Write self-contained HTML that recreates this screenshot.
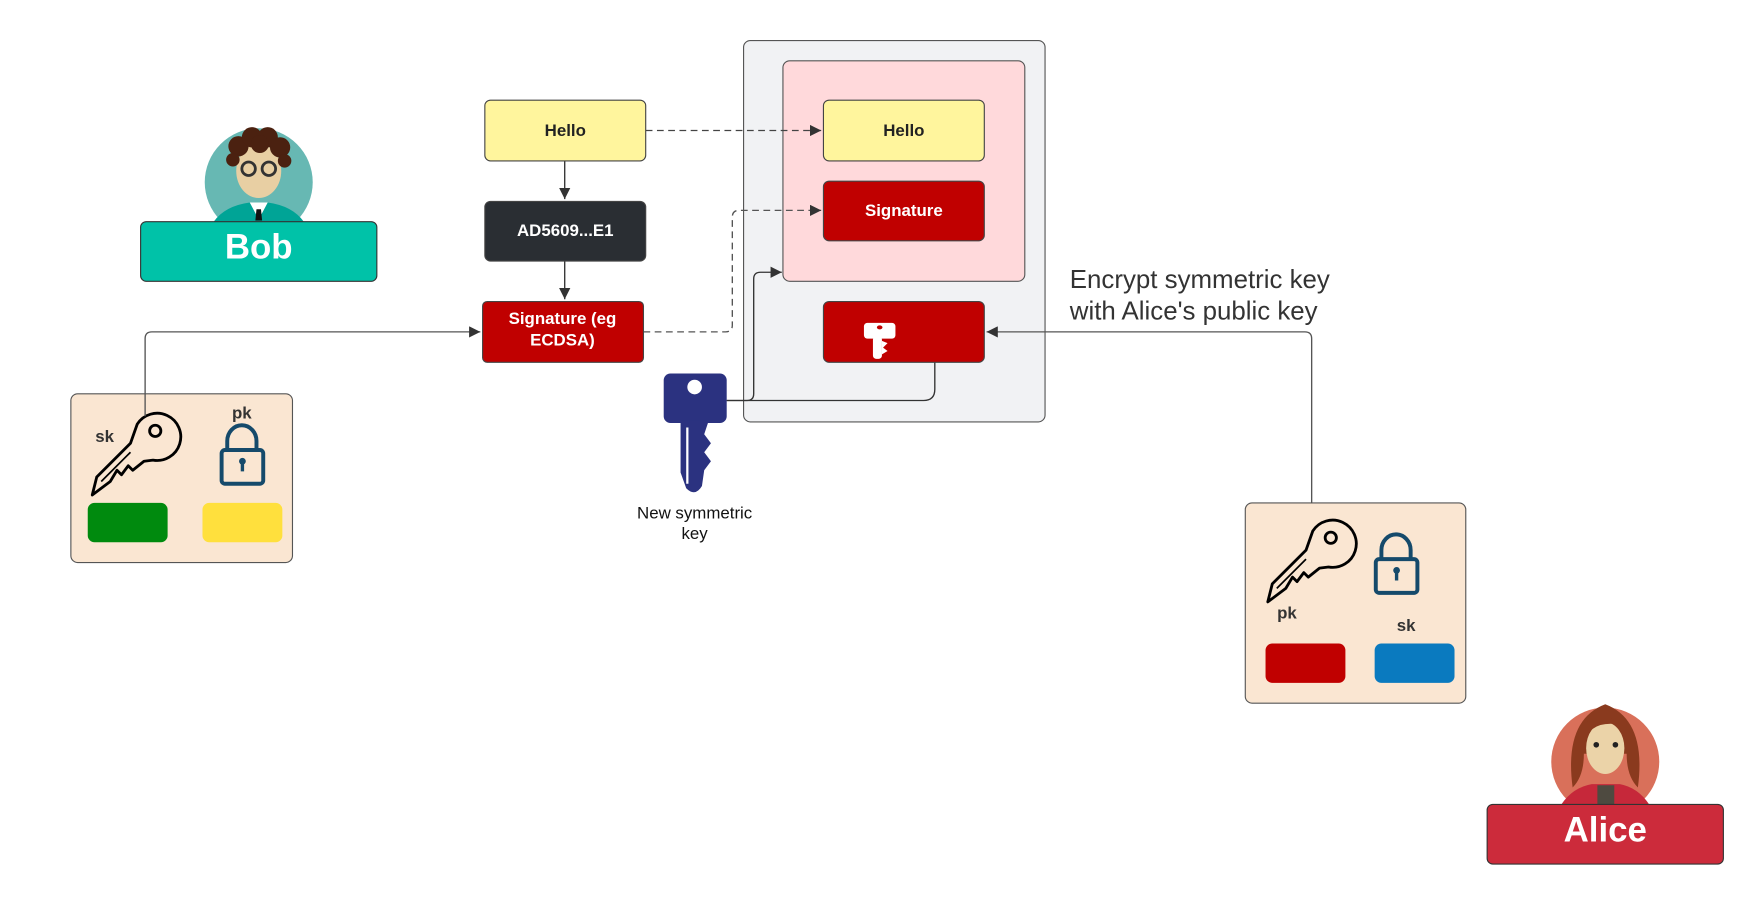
<!DOCTYPE html>
<html><head><meta charset="utf-8"><style>
html,body{margin:0;padding:0;background:#fff;width:1756px;height:900px;overflow:hidden}
svg{display:block}
text{font-family:"Liberation Sans",Arial,sans-serif}
</style></head><body>
<svg width="1756" height="900" viewBox="0 0 1561 800" preserveAspectRatio="none" xmlns="http://www.w3.org/2000/svg">
<defs>
<marker id="ar" viewBox="0 0 10 10" refX="10" refY="5" markerWidth="10" markerHeight="10" markerUnits="userSpaceOnUse" orient="auto"><path d="M0,0 L10,5 L0,10 z" fill="#333"/></marker>
<g id="okey" fill="none" stroke="#000" stroke-width="2.5" stroke-linejoin="round">
<path d="M122,377 A21,21 0 1 1 136,409 L128,410 L118,418 L114,414 L108,422 L104,418 L98,428 L82,440 L86,424 L116,394 Z"/>
<circle cx="138" cy="383" r="5"/>
<path d="M90,428 L116,402" stroke-width="1.5"/>
</g>
<g id="lock" fill="none" stroke="#154a6b" stroke-width="3.5">
<path d="M202,400 V392 A13,14 0 0 1 228,392 V400"/>
<rect x="197" y="400" width="37" height="30" rx="3"/>
<circle cx="215.5" cy="410" r="3" fill="#154a6b" stroke="none"/>
<rect x="214" y="411" width="3" height="8" fill="#154a6b" stroke="none"/>
</g>
</defs>

<!-- Bob avatar -->
<circle cx="230" cy="162" r="48" fill="#67b8b3"/>
<path d="M190,197 Q200,183 222,180 L238,180 Q260,183 270,197 Z" fill="#00a496"/>
<path d="M222,180 L230,195 L238,180 Z" fill="#fff"/>
<path d="M228,186 L232,186 L233,196 L227,196Z" fill="#111"/>
<ellipse cx="230" cy="152" rx="20" ry="24" fill="#e8cfa3"/>
<g fill="#4b2110">
<circle cx="212" cy="130" r="9"/><circle cx="224" cy="122" r="9"/><circle cx="238" cy="122" r="9"/><circle cx="249" cy="131" r="9"/>
<circle cx="207" cy="142" r="6"/><circle cx="253" cy="143" r="6"/><circle cx="231" cy="128" r="8"/>
</g>
<circle cx="221" cy="150" r="6" fill="none" stroke="#333" stroke-width="2.5"/>
<circle cx="239" cy="150" r="6" fill="none" stroke="#333" stroke-width="2.5"/>
<rect x="125" y="197" width="210" height="53" rx="5" fill="#00c2a8" stroke="#333" stroke-width="1"/>
<text x="230" y="230" font-size="31" font-weight="bold" fill="#fff" text-anchor="middle">Bob</text>

<!-- Bob key box -->
<rect x="63" y="350" width="197" height="150" rx="6" fill="#fae6d2" stroke="#555" stroke-width="1"/>
<use href="#okey"/>
<use href="#lock"/>
<text x="93" y="393" font-size="15" font-weight="bold" fill="#333" text-anchor="middle">sk</text>
<text x="215" y="372" font-size="15" font-weight="bold" fill="#333" text-anchor="middle">pk</text>
<rect x="78" y="447" width="71" height="35" rx="6" fill="#008a0e"/>
<rect x="180" y="447" width="71" height="35" rx="6" fill="#ffe03d"/>

<!-- Gray container -->
<rect x="661" y="36" width="268" height="339" rx="6" fill="#f1f2f4" stroke="#555" stroke-width="1"/>
<rect x="696" y="54" width="215" height="196" rx="6" fill="#ffd9db" stroke="#555" stroke-width="1"/>

<!-- connectors -->
<path d="M129,370 V301 Q129,295 135,295 H427" fill="none" stroke="#555" stroke-width="1.2" marker-end="url(#ar)"/>
<path d="M502,143 V177" fill="none" stroke="#333" stroke-width="1.2" marker-end="url(#ar)"/>
<path d="M502,232 V266" fill="none" stroke="#333" stroke-width="1.2" marker-end="url(#ar)"/>
<path d="M574,116 H730" fill="none" stroke="#444" stroke-width="1.2" stroke-dasharray="6,4" marker-end="url(#ar)"/>
<path d="M572,295 H645 Q651,295 651,289 V193 Q651,187 657,187 H730" fill="none" stroke="#555" stroke-width="1.2" stroke-dasharray="6,4" marker-end="url(#ar)"/>
<path d="M646,356 H664 Q670,356 670,350 V248 Q670,242 676,242 H695" fill="none" stroke="#333" stroke-width="1.2" marker-end="url(#ar)"/>
<path d="M646,356 H821 Q831,356 831,346 V303 Q831,295 823,295 H798" fill="none" stroke="#333" stroke-width="1.2" marker-end="url(#ar)"/>
<path d="M1166,466 V301 Q1166,295 1160,295 H877" fill="none" stroke="#555" stroke-width="1.2" marker-end="url(#ar)"/>

<!-- Boxes -->
<rect x="431" y="89" width="143" height="54" rx="5" fill="#fff59d" stroke="#444" stroke-width="1"/>
<text x="502.5" y="121" font-size="15" font-weight="bold" fill="#222" text-anchor="middle">Hello</text>
<rect x="431" y="179" width="143" height="53" rx="5" fill="#2a2e33" stroke="#444" stroke-width="1"/>
<text x="502.5" y="210" font-size="15" font-weight="bold" fill="#fff" text-anchor="middle">AD5609...E1</text>
<rect x="429" y="268" width="143" height="54" rx="4" fill="#c00000" stroke="#444" stroke-width="1"/>
<text x="500" y="288" font-size="15" font-weight="bold" fill="#fff" text-anchor="middle">Signature (eg</text>
<text x="500" y="307" font-size="15" font-weight="bold" fill="#fff" text-anchor="middle">ECDSA)</text>

<rect x="732" y="89" width="143" height="54" rx="5" fill="#fff59d" stroke="#444" stroke-width="1"/>
<text x="803.5" y="121" font-size="15" font-weight="bold" fill="#222" text-anchor="middle">Hello</text>
<rect x="732" y="161" width="143" height="53" rx="5" fill="#c00000" stroke="#444" stroke-width="1"/>
<text x="803.5" y="192" font-size="15" font-weight="bold" fill="#fff" text-anchor="middle">Signature</text>
<rect x="732" y="268" width="143" height="54" rx="5" fill="#c00000" stroke="#444" stroke-width="1"/>
<rect x="768" y="287" width="28" height="14" rx="3" fill="#fff"/>
<rect x="776" y="299" width="8" height="20" rx="3" fill="#fff"/>
<path d="M784,303 L789,305 L785,309 L789,312 L784,315Z" fill="#fff"/>
<ellipse cx="782" cy="291" rx="2.5" ry="1.8" fill="#c00000"/>

<!-- Blue key -->
<rect x="590" y="332" width="56" height="44" rx="6" fill="#2b3280"/>
<circle cx="617.5" cy="344" r="6.5" fill="#fff"/>
<path d="M605,374 H630 L626,386 L632,394 L626,402 L632,410 L626,418 L624,432 Q618,442 610,434 L605,420 Z" fill="#2b3280"/>
<path d="M611,380 V430" stroke="#fff" stroke-width="2"/>
<text x="617.5" y="461" font-size="15" fill="#111" text-anchor="middle">New symmetric</text>
<text x="617.5" y="479" font-size="15" fill="#111" text-anchor="middle">key</text>

<text x="951" y="256" font-size="23" fill="#333">Encrypt symmetric key</text>
<text x="951" y="284" font-size="23" fill="#333">with Alice's public key</text>

<!-- Alice key box -->
<rect x="1107" y="447" width="196" height="178" rx="6" fill="#fae6d2" stroke="#555" stroke-width="1"/>
<use href="#okey" transform="translate(1045,95)"/>
<use href="#lock" transform="translate(1026,97)"/>
<text x="1144" y="550" font-size="15" font-weight="bold" fill="#333" text-anchor="middle">pk</text>
<text x="1250" y="561" font-size="15" font-weight="bold" fill="#333" text-anchor="middle">sk</text>
<rect x="1125" y="572" width="71" height="35" rx="6" fill="#c00000"/>
<rect x="1222" y="572" width="71" height="35" rx="6" fill="#0a7abf"/>

<!-- Alice avatar -->
<circle cx="1427" cy="677" r="48" fill="#d9705a"/>
<path d="M1388,715 Q1398,700 1415,697 L1440,697 Q1456,700 1466,715Z" fill="#c6283a"/>
<rect x="1420" y="698" width="15" height="17" fill="#4e4a40"/>
<path d="M1398,700 Q1390,640 1427,626 Q1464,640 1456,700 Q1446,690 1446,670 L1408,670 Q1408,690 1398,700Z" fill="#8a3a1e"/>
<ellipse cx="1427" cy="665" rx="17" ry="23" fill="#ebd3a8"/>
<path d="M1408,662 Q1412,640 1440,644 Q1430,632 1410,642Z" fill="#8a3a1e"/>
<circle cx="1419" cy="662" r="2.5" fill="#222"/>
<circle cx="1436" cy="662" r="2.5" fill="#222"/>
<rect x="1322" y="715" width="210" height="53" rx="5" fill="#cc2b3b" stroke="#333" stroke-width="1"/>
<text x="1427" y="748" font-size="31" font-weight="bold" fill="#fff" text-anchor="middle">Alice</text>
</svg>
</body></html>
